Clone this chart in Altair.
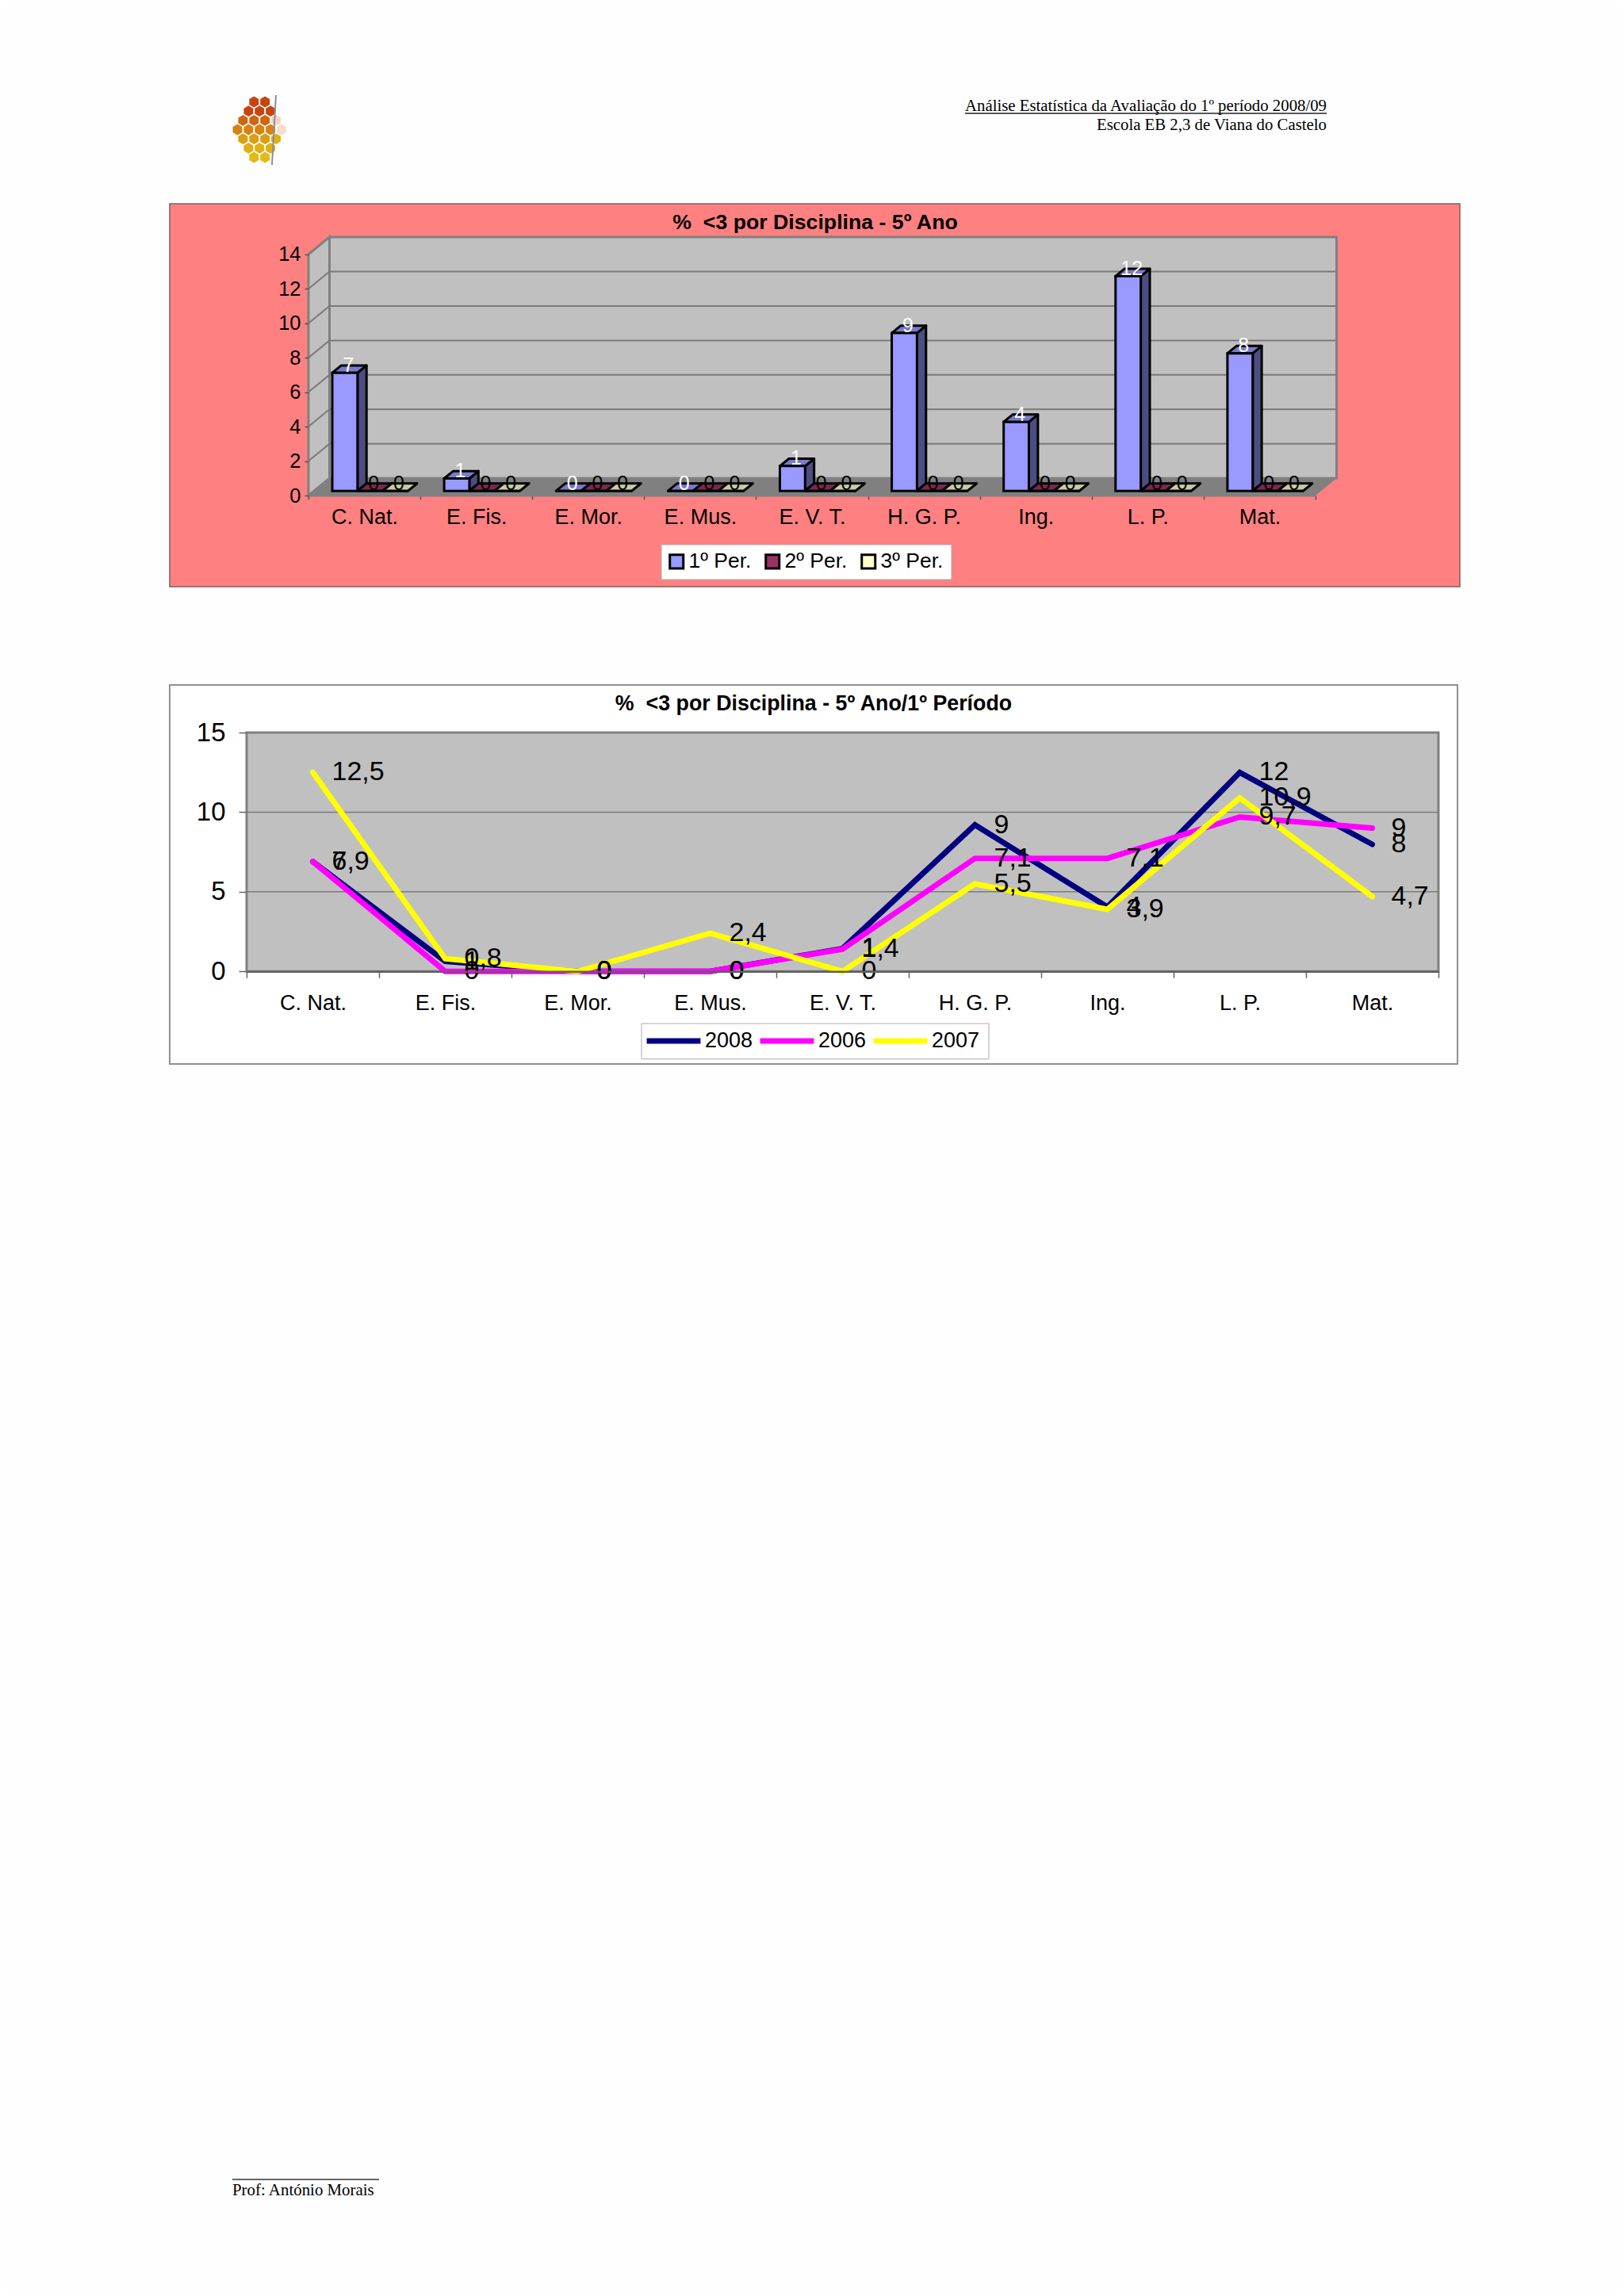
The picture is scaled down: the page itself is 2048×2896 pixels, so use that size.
import altair as alt
import pandas as pd

# ---------- data ----------
CATEGORIES = ["C. Nat.", "E. Fis.", "E. Mor.", "E. Mus.", "E. V. T.", "H. G. P.", "Ing.", "L. P.", "Mat."]
PERIODS = ["1º Per.", "2º Per.", "3º Per."]
YEARS = ["2008", "2006", "2007"]
PER1 = [6.85, 0.72, 0, 0, 1.44, 9.16, 4.0, 12.46, 7.98]
PER2 = [0, 0, 0, 0, 0, 0, 0, 0, 0]
PER3 = [0, 0, 0, 0, 0, 0, 0, 0, 0]
Y2008 = [6.9, 0.63, 0, 0, 1.44, 9.2, 4.05, 12.49, 7.98]
Y2006 = [6.9, 0, 0, 0, 1.4, 7.1, 7.1, 9.7, 9]
Y2007 = [12.5, 0.8, 0, 2.4, 0, 5.5, 3.9, 10.9, 4.7]
TICKS1 = [0, 2, 4, 6, 8, 10, 12, 14]
TICKS2 = [0, 5, 10, 15]
TITLE1 = "%\u00a0\u00a0<3 por Disciplina - 5º Ano"
TITLE2 = "%\u00a0\u00a0<3 por Disciplina - 5º Ano/1º Período"
HEAD1 = "Análise Estatística da Avaliação do 1º período 2008/09"
HEAD2 = "Escola EB 2,3 de Viana do Castelo"
FOOT = "Prof: António Morais"
LOGO_ROW = [0, 0, 1, 1, 1, 2, 2, 2, 2, 3, 3, 3, 3, 3, 4, 4, 4, 4, 5, 5, 5, 6, 6]
LOGO_COL = [3, 5, 2, 4, 6, 1, 3, 5, 7, 0, 2, 4, 6, 8, 1, 3, 5, 7, 2, 4, 6, 3, 5]
LOGO_TONE = ["a", "a", "a", "a", "a", "b", "b", "b", "p", "c", "c", "c", "c", "q", "d", "d", "d", "e", "e", "e", "e", "f", "f"]

SANS = "Liberation Sans"
SERIF = "Liberation Serif"


def px(v):
    return v - 8


one = pd.DataFrame({"k": [0]})


def box(x, x2, y, y2, **kw):
    return alt.Chart(one).mark_rect(**kw).encode(
        x=alt.value(px(x)), x2=alt.value(px(x2)), y=alt.value(px(y)), y2=alt.value(px(y2)))


def label(text, x, y, size, font=SANS, **kw):
    return alt.Chart(pd.DataFrame({"t": [text]})).mark_text(
        font=font, fontSize=size, baseline="middle", color="black", **kw
    ).encode(x=alt.value(px(x)), y=alt.value(px(y)), text="t:N")


def rule(x, x2, y, y2, color, width):
    return alt.Chart(one).mark_rule(color=color, strokeWidth=width).encode(
        x=alt.value(px(x)), x2=alt.value(px(x2)), y=alt.value(px(y)), y2=alt.value(px(y2)))


layers = []

# ---------- header / footer ----------
logo = pd.DataFrame({"row": LOGO_ROW, "col": LOGO_COL, "tone": LOGO_TONE})
HEX = "M0,-1L0.866,-0.5L0.866,0.5L0,1L-0.866,0.5L-0.866,-0.5Z"
layers.append(alt.Chart(logo).mark_point(shape=HEX, filled=True, opacity=1, size=190, strokeWidth=0).encode(
    x=alt.X("col:Q", axis=None, scale=alt.Scale(domain=[0, 8], range=[px(299.5), px(355)])),
    y=alt.Y("row:Q", axis=None, scale=alt.Scale(domain=[0, 6], range=[px(128.5), px(198.5)])),
    color=alt.Color("tone:N", legend=None, scale=alt.Scale(
        domain=["a", "b", "c", "d", "e", "f", "p", "q"],
        range=["#C8440F", "#D0650E", "#D6830F", "#DB9E12", "#E0B015", "#E3BA18", "#F3D3C0", "#F2DFC8"])),
))
layers.append(rule(348, 343, 120, 208, "#8A8F96", 2))
layers.append(label(HEAD1, 1673, 134, 20.8, SERIF, align="right"))
layers.append(rule(1217, 1673, 143, 143, "#222222", 1.5))
layers.append(label(HEAD2, 1673, 158, 20.8, SERIF, align="right"))
layers.append(rule(293, 478, 2749, 2749, "#666666", 2))
layers.append(label(FOOT, 293, 2763, 20.9, SERIF, align="left"))

# ---------- chart 1: pseudo 3-D bars ----------
layers.append(box(214, 1841, 257, 740, color="#FF8080", stroke="#7F6060", strokeWidth=1.5))
layers.append(label(TITLE1, 1028, 281, 26.7, SANS, align="center", fontWeight="bold"))
layers.append(box(834, 1200, 687, 731, color="white", stroke="#AAAAAA", strokeWidth=1))

SX = alt.Scale(domain=[0, 9], range=[px(389), px(1659)], nice=False, zero=False)
SY = alt.Scale(domain=[0, 15], range=[px(625), px(299)], nice=False, zero=False)
KX = 0.188      # x shift (in categories) for a full depth unit
KY = 1.0        # y shift (in value units) for a full depth unit


def xq(f="x"):
    return alt.X(f"{f}:Q", axis=None, scale=SX)


def yq(f="y"):
    return alt.Y(f"{f}:Q", axis=None, scale=SY)


def ar(f="y2"):
    return alt.Y2(f"{f}:Q")


left_wall = pd.DataFrame({"x": [0, KX], "y": [14, 14 + KY], "y2": [0, KY]})
floor = pd.DataFrame({"x": [0, KX, 9, 9 + KX], "y": [0, KY, KY, KY], "y2": [0, 0, 0, KY]})
back = pd.DataFrame({"x": [KX], "x2": [9 + KX], "y": [KY], "y2": [14 + KY]})
layers.append(alt.Chart(left_wall).mark_area(color="#C0C0C0", stroke="#808080", strokeWidth=3).encode(
    x=xq(), y=yq(), y2=ar()))
layers.append(alt.Chart(back).mark_rect(color="#C0C0C0", stroke="#808080", strokeWidth=3).encode(
    x=xq(), x2=alt.X2("x2:Q"), y=yq(), y2=ar()))
layers.append(alt.Chart(floor).mark_area(color="#808080").encode(x=xq(), y=yq(), y2=ar()))

g_rows = []
for t in TICKS1[1:-1]:
    g_rows += [{"t": t, "x": 0, "y": t}, {"t": t, "x": KX, "y": t + KY}, {"t": t, "x": 9 + KX, "y": t + KY}]
layers.append(alt.Chart(pd.DataFrame(g_rows)).mark_line(color="#7A7A7A", strokeWidth=2).encode(
    x=xq(), y=yq(), detail="t:N"))

# native axes for chart 1
ax_rows = pd.DataFrame({"c": CATEGORIES, "v": [0] * 9})
layers.append(alt.Chart(ax_rows).mark_point(opacity=0).encode(
    x=alt.X("c:N", sort=CATEGORIES, title=None, scale=alt.Scale(
        type="band", domain=CATEGORIES, range=[px(389), px(1659)], paddingInner=0, paddingOuter=0),
        axis=alt.Axis(orient="bottom", offset=px(625) - 2880, tickBand="extent", labelAngle=0, title=None,
                      labelFont=SANS, labelFontSize=27, labelColor="black", labelPadding=9,
                      tickSize=5, tickColor="#555555", tickWidth=1.5, domainColor="#808080", domainWidth=2,
                      grid=False, labelOverlap=False, zindex=1)),
    y=alt.Y("v:Q", title=None, scale=SY,
            axis=alt.Axis(orient="left", offset=-px(389), values=TICKS1, title=None, grid=False,
                          labelFont=SANS, labelFontSize=25.5, labelColor="black", labelPadding=5,
                          tickSize=5, tickColor="#555555", tickWidth=1.5, domain=False, zindex=1)),
))

D0, D1, DL = 0.27, 0.70, 0.44
BW = 0.2254
GAP = 0.162
side, top, front, texts = [], [], [], []
for s, vals in enumerate([PER1, PER2, PER3]):
    for i, v in enumerate(vals):
        x1 = i + GAP + s * BW
        x2 = x1 + BW
        kid = f"{s}-{i}"
        side += [{"id": kid, "s": PERIODS[s], "x": x2 + D0 * KX, "y": v + D0, "y2": D0},
                 {"id": kid, "s": PERIODS[s], "x": x2 + D1 * KX, "y": v + D1, "y2": D1}]
        top += [{"id": kid, "s": PERIODS[s], "x": x1 + D0 * KX, "y": v + D0, "y2": v + D0},
                {"id": kid, "s": PERIODS[s], "x": x1 + D1 * KX, "y": v + D1, "y2": v + D0},
                {"id": kid, "s": PERIODS[s], "x": x2 + D0 * KX, "y": v + D1, "y2": v + D0},
                {"id": kid, "s": PERIODS[s], "x": x2 + D1 * KX, "y": v + D1, "y2": v + D1}]
        front.append({"s": PERIODS[s], "x": x1 + D0 * KX, "x2": x2 + D0 * KX, "y": D0, "y2": v + D0})
        texts.append({"s": PERIODS[s], "x": (x1 + x2) / 2 + DL * KX, "y": v + D1, "t": f"{v:.0f}"})

PAL_FRONT = ["#9999FF", "#993366", "#FFFFCC"]
PAL_TOP = ["#7A7ACC", "#7A2952", "#CCCCA3"]
PAL_SIDE = ["#4D4D80", "#4D1A33", "#808066"]

layers.append(alt.Chart(pd.DataFrame(side)).mark_area(stroke="black", strokeWidth=3, strokeJoin="round").encode(
    x=xq(), y=yq(), y2=ar(), detail="id:N",
    color=alt.Color("s:N", legend=None, scale=alt.Scale(domain=PERIODS, range=PAL_SIDE))))
layers.append(alt.Chart(pd.DataFrame(top)).mark_area(stroke="black", strokeWidth=3, strokeJoin="round").encode(
    x=xq(), y=yq(), y2=ar(), detail="id:N",
    color=alt.Color("s:N", legend=None, scale=alt.Scale(domain=PERIODS, range=PAL_TOP))))
layers.append(alt.Chart(pd.DataFrame(front)).mark_rect(stroke="black", strokeWidth=3).encode(
    x=xq(), x2=alt.X2("x2:Q"), y=yq(), y2=ar(),
    color=alt.Color("s:N", sort=PERIODS, title=None, scale=alt.Scale(domain=PERIODS, range=PAL_FRONT),
                    legend=alt.Legend(orient="none", legendX=px(832), legendY=px(687), direction="horizontal",
                                      columns=3, title=None,
                                      symbolType="square", symbolSize=290, symbolStrokeColor="black",
                                      symbolStrokeWidth=3, symbolOpacity=1, labelFont=SANS, labelFontSize=26.5,
                                      labelColor="black", labelOffset=2, padding=8, columnPadding=11,
                                      rowPadding=0, symbolOffset=0))))
layers.append(alt.Chart(pd.DataFrame(texts)).mark_text(font=SANS, fontSize=25, baseline="middle").encode(
    x=xq(), y=yq(), text="t:N",
    color=alt.Color("s:N", legend=None, scale=alt.Scale(domain=PERIODS, range=["white", "black", "black"]))))

# ---------- chart 2: lines ----------
layers.append(box(214, 1838, 864, 1342, color="white", stroke="#909090", strokeWidth=2))
layers.append(label(TITLE2, 1026, 888, 26.8, SANS, align="center", fontWeight="bold"))
layers.append(box(809, 1247, 1291, 1335.7, color="white", stroke="#AAAAAA", strokeWidth=1))
layers.append(box(311, 1814, 924, 1225.3, color="#C0C0C0", stroke="#808080", strokeWidth=3))

SY2 = alt.Scale(domain=[0, 15], range=[px(1225.3), px(924)], nice=False, zero=False)
SP2 = alt.Scale(type="point", domain=CATEGORIES, range=[px(311), px(1814)], padding=0.5)

layers.append(alt.Chart(pd.DataFrame({"v": TICKS2[1:-1]})).mark_rule(color="#7A7A7A", strokeWidth=1.5).encode(
    y=alt.Y("v:Q", axis=None, scale=SY2), x=alt.value(px(311)), x2=alt.value(px(1814))))

layers.append(alt.Chart(ax_rows).mark_point(opacity=0).encode(
    x=alt.X("c:N", sort=CATEGORIES, title=None, scale=alt.Scale(
        type="band", domain=CATEGORIES, range=[px(311), px(1814)], paddingInner=0, paddingOuter=0),
        axis=alt.Axis(orient="bottom", offset=px(1225.3) - 2880, tickBand="extent", labelAngle=0, title=None,
                      labelFont=SANS, labelFontSize=27, labelColor="black", labelPadding=19,
                      tickSize=8, tickColor="#666666", tickWidth=1.5, domainColor="#606060", domainWidth=2.5,
                      grid=False, labelOverlap=False, zindex=1)),
    y=alt.Y("v:Q", title=None, scale=SY2,
            axis=alt.Axis(orient="left", offset=-px(311), values=TICKS2, title=None, grid=False,
                          labelFont=SANS, labelFontSize=33, labelColor="black", labelPadding=17,
                          tickSize=10, tickColor="#666666", tickWidth=1.5, domain=False, zindex=1)),
))

lines = []
for name, vals in zip(YEARS, [Y2008, Y2006, Y2007]):
    for c, v in zip(CATEGORIES, vals):
        txt = f"{v:.0f}" if name == "2008" else f"{v:g}".replace(".", ",")
        lines.append({"c": c, "v": v, "year": name, "t": txt})
lines = pd.DataFrame(lines)

layers.append(alt.Chart(lines).mark_line(strokeWidth=7, strokeJoin="miter", strokeCap="round").encode(
    x=alt.X("c:N", sort=CATEGORIES, axis=None, scale=SP2),
    y=alt.Y("v:Q", axis=None, scale=SY2),
    color=alt.Color("year:N", sort=YEARS, title=None, scale=alt.Scale(domain=YEARS, range=["#000080", "#FF00FF", "#FFFF00"]),
                    legend=alt.Legend(orient="none", legendX=px(805), legendY=px(1291), direction="horizontal",
                                      columns=3, title=None,
                                      symbolType="stroke", symbolSize=4600, symbolStrokeWidth=7, labelFont=SANS,
                                      labelFontSize=27, labelColor="black", labelOffset=2, padding=7,
                                      columnPadding=5, rowPadding=0, clipHeight=30)),
))
layers.append(alt.Chart(lines).mark_text(font=SANS, fontSize=34, align="left", baseline="middle", dx=24, color="black").encode(
    x=alt.X("c:N", sort=CATEGORIES, axis=None, scale=SP2),
    y=alt.Y("v:Q", axis=None, scale=SY2),
    text="t:N",
))

chart = alt.layer(*layers).resolve_scale(x="independent", y="independent", color="independent").properties(
    width=2032, height=2880, background="#FEFEFE", padding=0,
    autosize=alt.AutoSizeParams(type="none"),
).configure_view(stroke=None)

chart.save("out.html", embed_options={"renderer": "svg", "actions": False})
